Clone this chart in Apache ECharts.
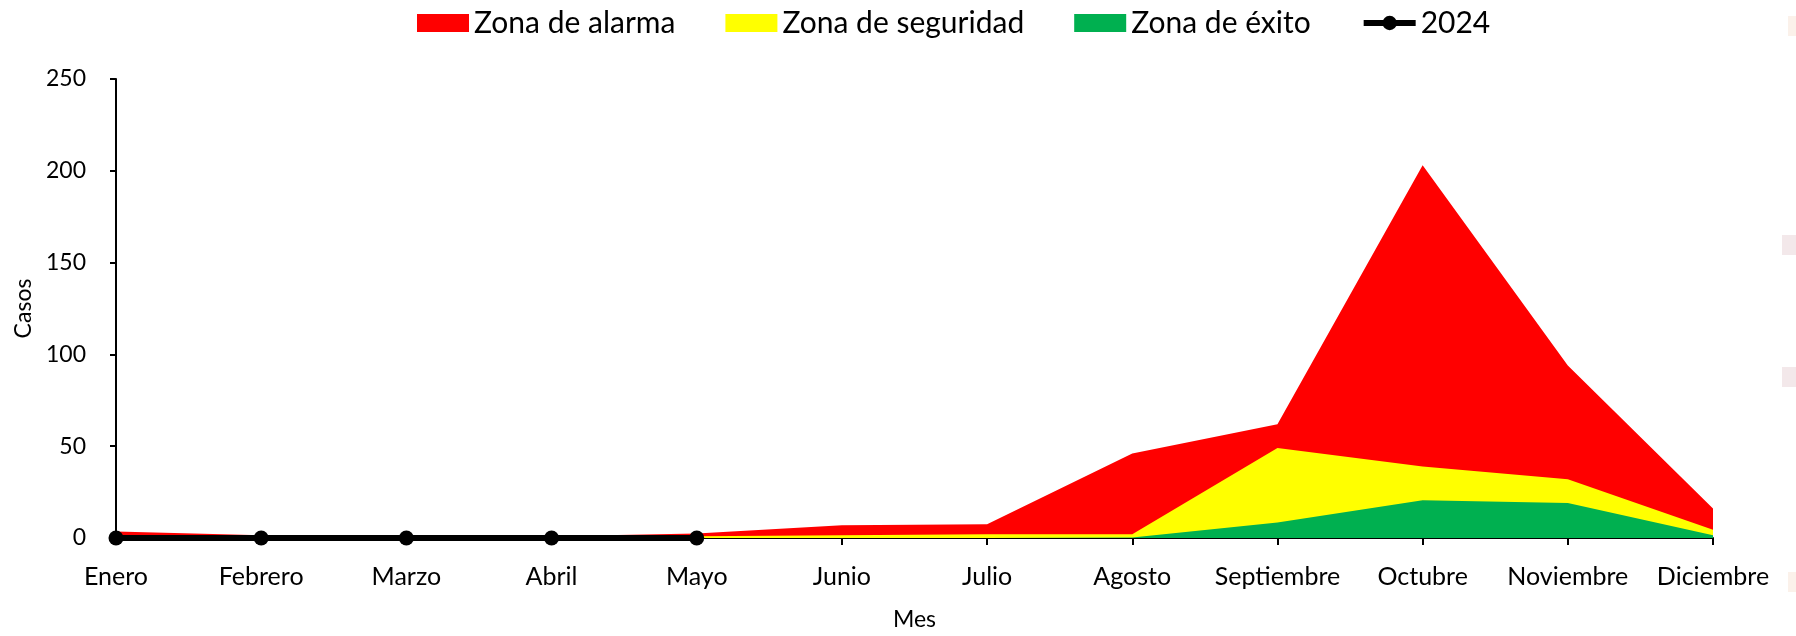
<!DOCTYPE html>
<html>
<head>
<meta charset="utf-8">
<script src="https://cdn.jsdelivr.net/npm/echarts@6/dist/echarts.min.js"></script>
<style>
    html, body { margin: 0; padding: 0; background: #fff; }
    #chart { width: 1796px; height: 636px; }
</style>
</head>
<body>
<div id="chart"></div>
<script>
    // meses
    var meses = ['Enero', 'Febrero', 'Marzo', 'Abril', 'Mayo', 'Junio', 'Julio', 'Agosto', 'Septiembre', 'Octubre', 'Noviembre', 'Diciembre'];
    // limite superior de cada zona (canal endemico)
    var zonaAlarma = [3.5, 1.5, 1, 1, 2.5, 7, 7.5, 46, 62, 203, 94, 16];
    var zonaSeguridad = [0.5, 0.5, 0.5, 0.5, 1, 1.5, 2, 2, 49, 39, 32, 4.5];
    var zonaExito = [0, 0, 0, 0, 0, 0, 0, 0.3, 8.5, 20.5, 19, 1.5];
    var casos2024 = [0, 0, 0, 0, 0, null, null, null, null, null, null, null];

    var fuente = 'Lato';

    var myChart = echarts.init(document.getElementById('chart'));

    function zona(nombre, datos, color) {
        return {
            name: nombre,
            type: 'line',
            data: datos,
            symbol: 'none',
            lineStyle: {width: 0, color: color},
            itemStyle: {color: color},
            areaStyle: {color: color, opacity: 1},
            silent: true
        };
    }

    var option = {
        animation: false,
        textStyle: {fontFamily: fuente},
        legend: {
            top: 3,
            left: 412,
            itemWidth: 52,
            itemHeight: 18,
            itemGap: 50,
            textStyle: {fontSize: 30, color: '#000', fontFamily: fuente},
            data: [
                {name: 'Zona de alarma', icon: 'rect'},
                {name: 'Zona de seguridad', icon: 'rect'},
                {name: 'Zona de éxito', icon: 'rect'},
                {name: '2024', lineStyle: {width: 6}, itemStyle: {color: '#000'}}
            ]
        },
        grid: {left: 116, right: 83, top: 79, bottom: 88},
        xAxis: {
            type: 'category',
            data: meses,
            boundaryGap: false,
            name: 'Mes',
            nameLocation: 'middle',
            nameGap: 70,
            nameTextStyle: {fontSize: 23, color: '#000', fontFamily: fuente},
            axisLine: {lineStyle: {color: '#000', width: 2}},
            axisTick: {show: true, length: 7, interval: 0, lineStyle: {color: '#000', width: 2}},
            axisLabel: {fontSize: 25, color: '#000', margin: 26, interval: 0, fontFamily: fuente}
        },
        yAxis: {
            type: 'value',
            min: 0,
            max: 250,
            interval: 50,
            name: 'Casos',
            nameLocation: 'middle',
            nameGap: 71,
            nameTextStyle: {fontSize: 23, color: '#000', fontFamily: fuente},
            axisLine: {show: true, lineStyle: {color: '#000', width: 2}},
            axisTick: {show: true, length: 6, lineStyle: {color: '#000', width: 2}},
            splitLine: {show: false},
            axisLabel: {fontSize: 23, color: '#000', margin: 30, fontFamily: fuente}
        },
        graphic: [
            {type: 'rect', shape: {x: 1788, y: 16, width: 8, height: 20}, style: {fill: '#fbf1ea'}},
            {type: 'rect', shape: {x: 1782, y: 235, width: 14, height: 20}, style: {fill: '#f3e8ea'}},
            {type: 'rect', shape: {x: 1782, y: 367, width: 14, height: 20}, style: {fill: '#f3e8ea'}},
            {type: 'rect', shape: {x: 1788, y: 572, width: 8, height: 20}, style: {fill: '#fbf1ea'}}
        ],
        series: [
            zona('Zona de alarma', zonaAlarma, '#ff0000'),
            zona('Zona de seguridad', zonaSeguridad, '#ffff00'),
            zona('Zona de éxito', zonaExito, '#00b050'),
            {
                name: '2024',
                type: 'line',
                data: casos2024,
                symbol: 'circle',
                symbolSize: 15,
                lineStyle: {width: 6, color: '#000'},
                itemStyle: {color: '#000'},
                z: 5
            }
        ]
    };

    myChart.setOption(option);
</script>
</body>
</html>
